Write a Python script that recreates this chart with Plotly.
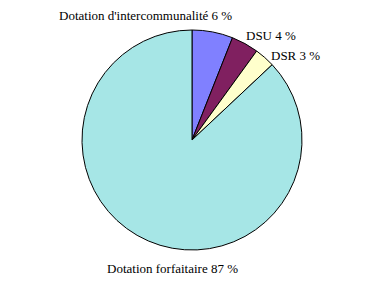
import plotly.graph_objects as go

labels = ["Dotation d'intercommunalité", "DSU", "DSR", "Dotation forfaitaire"]
values = [6, 4, 3, 87]
colors = ["#8080FF", "#802060", "#FFFFCC", "#A6E6E6"]

W, H = 387, 282
# label anchor positions in pixels (x center, y center)
label_px = [(145, 15), (271, 36), (295, 55), (172, 268)]

fig = go.Figure(go.Pie(
    labels=labels, values=values, sort=False, direction="clockwise", rotation=0,
    marker=dict(colors=colors, line=dict(color="black", width=1)),
    textinfo="none", hoverinfo="label+percent",
    domain=dict(x=[82 / W, 302 / W], y=[1 - 250 / H, 1 - 30 / H]),
))

for lab, val, (px, py) in zip(labels, values, label_px):
    fig.add_annotation(
        x=px / W, y=1 - py / H, xref="paper", yref="paper",
        text=f"{lab} {val} %", showarrow=False,
        xanchor="center", yanchor="middle",
        font=dict(family="Liberation Serif", size=13, color="black"),
    )

fig.update_layout(
    width=W, height=H, margin=dict(l=0, r=0, t=0, b=0),
    paper_bgcolor="white", plot_bgcolor="white", showlegend=False,
)
fig.write_html("out.html")
